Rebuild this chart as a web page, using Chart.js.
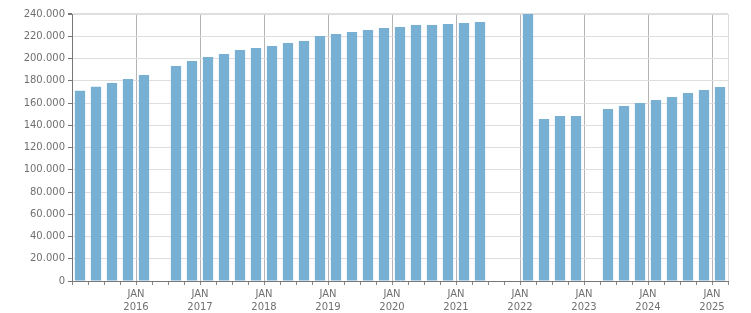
<!DOCTYPE html>
<html>
<head>
<meta charset="utf-8">
<script src="https://cdn.jsdelivr.net/npm/chart.js@4/dist/chart.umd.min.js"></script>
<style>
  html, body { margin:0; padding:0; background:#fff; }
  #wrap { width:751px; height:313px; }
</style>
</head>
<body>
<div id="wrap"><canvas id="chart"></canvas></div>
<script>
// quarterly values, 2015 Q1 .. 2025 Q1 (null = no data for that quarter)
const quarters = [
  '2015 Q1','2015 Q2','2015 Q3','2015 Q4',
  '2016 Q1','2016 Q2','2016 Q3','2016 Q4',
  '2017 Q1','2017 Q2','2017 Q3','2017 Q4',
  '2018 Q1','2018 Q2','2018 Q3','2018 Q4',
  '2019 Q1','2019 Q2','2019 Q3','2019 Q4',
  '2020 Q1','2020 Q2','2020 Q3','2020 Q4',
  '2021 Q1','2021 Q2','2021 Q3','2021 Q4',
  '2022 Q1','2022 Q2','2022 Q3','2022 Q4',
  '2023 Q1','2023 Q2','2023 Q3','2023 Q4',
  '2024 Q1','2024 Q2','2024 Q3','2024 Q4',
  '2025 Q1'
];
const values = [
  171000, 174500, 178000, 181600,
  185200, null,   193300, 197800,
  201300, 204000, 207600, 209400,
  211200, 213900, 215700, 220200,
  222000, 223800, 225600, 227400,
  228300, 230100, 230100, 231000,
  231900, 232800, null,   null,
  240000, 145600, 148300, 148300,
  null,   154600, 157300, 160000,
  162700, 165400, 169000, 171700,
  174400
];
// year labels shown at each January boundary (2016..2025)
const yearLabels = ['2016','2017','2018','2019','2020','2021','2022','2023','2024','2025'];
const yTicks = [0,20000,40000,60000,80000,100000,120000,140000,160000,180000,200000,220000,240000];

const barColor = '#77b0d3';
const textColor = '#707070';
const font = { family: 'DejaVu Sans', size: 10 };

// bars sit in the middle of their quarter on a linear quarter axis
const points = [];
values.forEach((v, i) => { if (v !== null) points.push({ x: i + 0.5, y: v }); });

const nQ = quarters.length;

new Chart(document.getElementById('chart'), {
  type: 'bar',
  data: {
    datasets: [{
      data: points,
      backgroundColor: barColor,
      borderWidth: 0,
      categoryPercentage: 1,
      barPercentage: 0.64
    }]
  },
  options: {
    responsive: true,
    maintainAspectRatio: false,
    animation: false,
    layout: { padding: { left: 0, top: 14, right: 23, bottom: 0 } },
    plugins: { legend: { display: false }, tooltip: { enabled: false } },
    scales: {
      x: {
        type: 'linear',
        min: 0,
        max: nQ,
        offset: false,
        afterBuildTicks: axis => {
          axis.ticks = Array.from({ length: nQ + 1 }, (_, i) => ({ value: i }));
        },
        afterFit: axis => { axis.height = 32; },
        border: { color: '#777', width: 1 },
        grid: {
          offset: false,
          color: c => {
            const v = c.tick.value;
            if (v === nQ) return '#dcdcdc';
            if (v > 0 && v % 4 === 0) return '#b4b4b4';
            return 'rgba(0,0,0,0)';
          },
          tickColor: '#888',
          tickLength: 4,
          lineWidth: 1
        },
        ticks: {
          autoSkip: false,
          maxRotation: 0,
          minRotation: 0,
          padding: 3,
          color: textColor,
          font: Object.assign({ lineHeight: 1.3 }, font),
          callback: v => (v > 0 && v % 4 === 0 && yearLabels[v / 4 - 1]) ? ['JAN', yearLabels[v / 4 - 1]] : ''
        }
      },
      y: {
        min: 0,
        max: 240000,
        afterBuildTicks: axis => { axis.ticks = yTicks.map(v => ({ value: v })); },
        afterFit: axis => { axis.width = 72; },
        border: { color: '#777', width: 1 },
        grid: {
          color: '#dedede',
          lineWidth: c => c.tick.value === 240000 ? 2 : 1,
          tickColor: '#777',
          tickLength: 4
        },
        ticks: {
          padding: 3,
          color: textColor,
          font: font,
          callback: v => v.toLocaleString('de-DE')
        }
      }
    }
  }
});
</script>
</body>
</html>
